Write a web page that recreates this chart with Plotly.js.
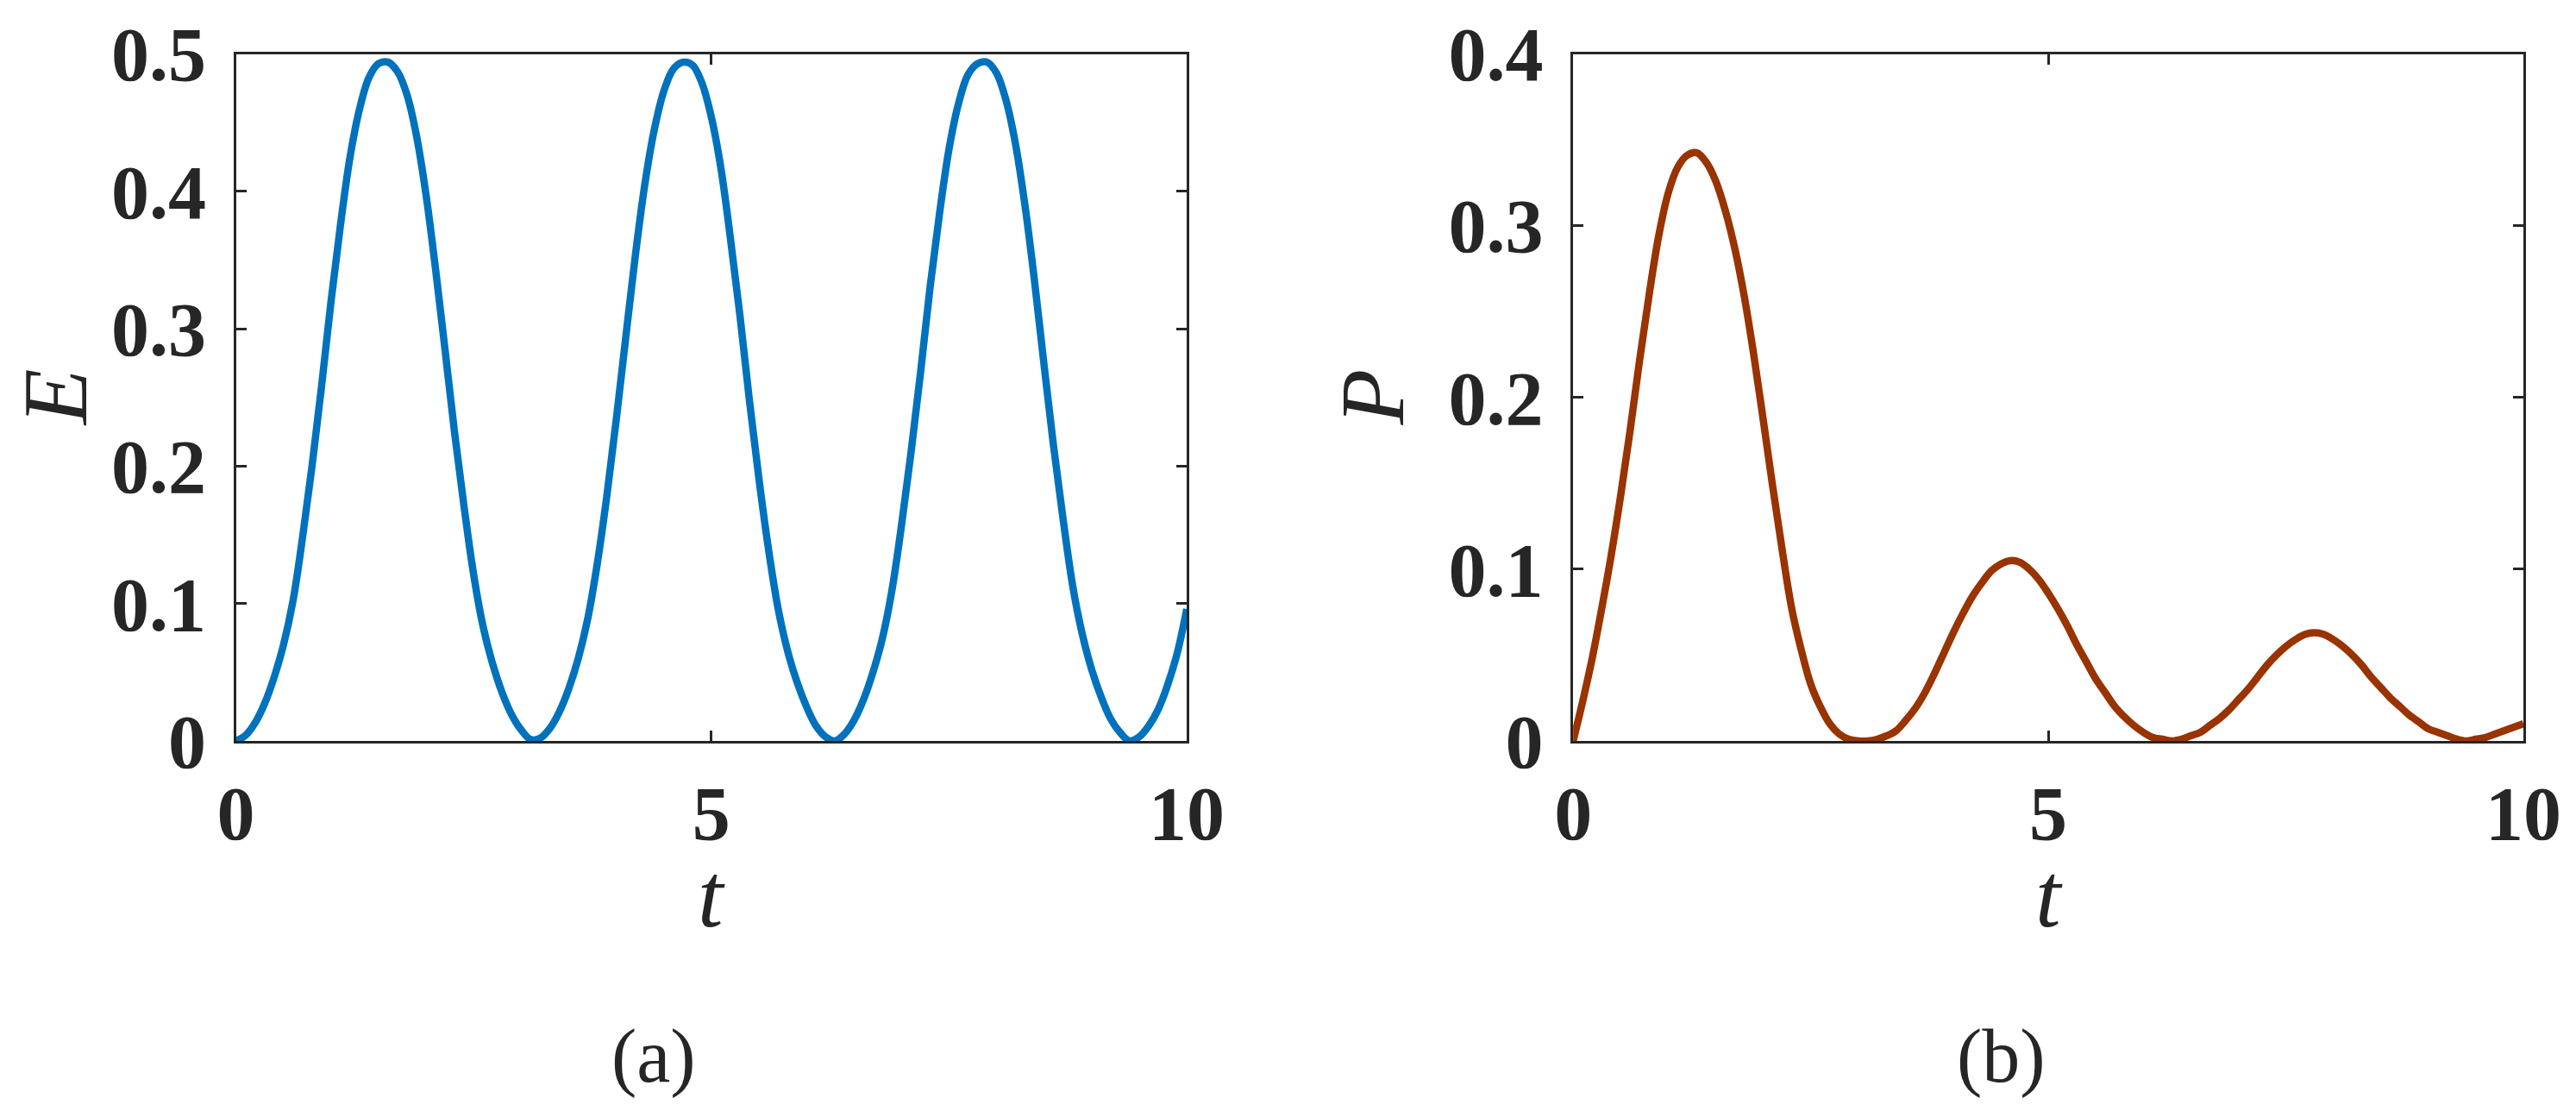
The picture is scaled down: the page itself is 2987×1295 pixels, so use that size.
<!DOCTYPE html>
<html>
<head>
<meta charset="utf-8">
<script src="https://cdn.plot.ly/plotly-3.0.1.min.js"></script>
<style>
html,body{margin:0;padding:0;background:#fff;}
#chart{width:2987px;height:1295px;}
</style>
</head>
<body>
<div id="chart"></div>
<script>
// time axis (shared by both panels)
const t = [0.0,0.1,0.2,0.3,0.4,0.5,0.6,0.7,0.8,0.9,1.0,1.1,1.2,1.3,1.4,1.5,1.6,1.7,1.8,1.9,2.0,2.1,2.2,2.3,2.4,2.5,2.6,2.7,2.8,2.9,3.0,3.1,3.2,3.3,3.4,3.5,3.6,3.7,3.8,3.9,4.0,4.1,4.2,4.3,4.4,4.5,4.6,4.7,4.8,4.9,5.0,5.1,5.2,5.3,5.4,5.5,5.6,5.7,5.8,5.9,6.0,6.1,6.2,6.3,6.4,6.5,6.6,6.7,6.8,6.9,7.0,7.1,7.2,7.3,7.4,7.5,7.6,7.7,7.8,7.9,8.0,8.1,8.2,8.3,8.4,8.5,8.6,8.7,8.8,8.9,9.0,9.1,9.2,9.3,9.4,9.5,9.6,9.7,9.8,9.9,10.0];

// panel (a): E(t)
const E = [0,0.004,0.013,0.027,0.046,0.070,0.102,0.148,0.200,0.258,0.320,0.376,0.425,0.460,0.483,0.493,0.494,0.487,0.470,0.440,0.397,0.343,0.284,0.224,0.170,0.121,0.083,0.056,0.035,0.019,0.008,0.001,0.002,0.009,0.021,0.038,0.060,0.089,0.129,0.178,0.234,0.294,0.353,0.405,0.445,0.473,0.489,0.494,0.492,0.479,0.454,0.417,0.366,0.310,0.248,0.191,0.140,0.097,0.066,0.043,0.025,0.011,0.003,0.000,0.005,0.015,0.030,0.050,0.075,0.110,0.157,0.210,0.268,0.330,0.384,0.431,0.464,0.485,0.493,0.494,0.486,0.466,0.434,0.389,0.334,0.273,0.214,0.161,0.113,0.078,0.052,0.032,0.016,0.006,0.000,0.003,0.011,0.023,0.041,0.064,0.096];

// panel (b): P(t)
const P = [0,0.023,0.048,0.077,0.108,0.143,0.181,0.222,0.260,0.294,0.319,0.334,0.341,0.3425,0.337,0.326,0.309,0.287,0.259,0.225,0.187,0.148,0.111,0.077,0.053,0.033,0.020,0.010,0.004,0.001,0.000,0.000,0.001,0.003,0.006,0.012,0.019,0.028,0.039,0.051,0.063,0.074,0.084,0.092,0.099,0.103,0.105,0.104,0.100,0.094,0.086,0.077,0.067,0.056,0.046,0.036,0.028,0.020,0.014,0.009,0.005,0.002,0.001,0.000,0.001,0.003,0.005,0.009,0.013,0.018,0.024,0.030,0.037,0.044,0.050,0.055,0.059,0.062,0.063,0.062,0.059,0.055,0.050,0.044,0.037,0.031,0.025,0.020,0.015,0.011,0.007,0.005,0.003,0.001,0.000,0.001,0.002,0.004,0.006,0.008,0.010];

const xTicks = [0, 5, 10];
const xTickText = ['0', '5', '10'];
const eTicks = [0, 0.1, 0.2, 0.3, 0.4, 0.5];
const eTickText = ['0', '0.1', '0.2', '0.3', '0.4', '0.5'];
const pTicks = [0, 0.1, 0.2, 0.3, 0.4];
const pTickText = ['0', '0.1', '0.2', '0.3', '0.4'];
const captions = ['(a)', '(b)'];
const axisTitles = {x: 't', ya: 'E', yb: 'P'};

const axisColor = '#262626';
const serif = '"Liberation Serif", "Times New Roman", Times, "Nimbus Roman", serif';
const tickFont = {family: serif, size: 88, color: axisColor, weight: 'bold'};
const titleFont = {family: serif, size: 106, color: axisColor, style: 'italic'};
const captionFont = {family: serif, size: 88, color: axisColor};

function xAxis(domain, anchor) {
  return {
    domain: domain, anchor: anchor, range: [0, 10],
    tickvals: xTicks, ticktext: xTickText,
    ticks: 'inside', ticklen: 12, tickwidth: 3, tickcolor: axisColor,
    showline: true, linewidth: 3, linecolor: axisColor, mirror: 'ticks',
    showgrid: false, zeroline: false,
    tickfont: tickFont, ticklabelstandoff: 5
  };
}
function yAxis(range, vals, text, anchor) {
  return {
    domain: [0.3367, 0.9517], anchor: anchor, range: range,
    tickvals: vals, ticktext: text,
    ticks: 'inside', ticklen: 12, tickwidth: 3, tickcolor: axisColor,
    showline: true, linewidth: 3, linecolor: axisColor, mirror: 'ticks',
    showgrid: false, zeroline: false,
    tickfont: tickFont, ticklabelstandoff: 14
  };
}

function label(text, x, y, font, angle) {
  return {text: text, xref: 'paper', yref: 'paper', x: x, y: y,
          xanchor: 'center', yanchor: 'middle', showarrow: false,
          textangle: angle || 0, font: font};
}

const data = [
  {x: t, y: E, xaxis: 'x', yaxis: 'y', type: 'scatter', mode: 'lines',
   line: {color: '#0072BD', width: 8.5, shape: 'spline'}, hoverinfo: 'skip'},
  {x: t, y: P, xaxis: 'x2', yaxis: 'y2', type: 'scatter', mode: 'lines',
   line: {color: '#993300', width: 8.5, shape: 'spline'}, hoverinfo: 'skip'}
];

const layout = {
  width: 2987, height: 1295,
  margin: {l: 0, r: 0, t: 0, b: 0},
  paper_bgcolor: '#ffffff', plot_bgcolor: '#ffffff',
  showlegend: false,
  font: {family: serif},
  xaxis: xAxis([0.0916, 0.4607], 'y'),
  yaxis: yAxis([0, 0.5], eTicks, eTickText, 'x'),
  xaxis2: xAxis([0.6107, 0.9796], 'y2'),
  yaxis2: yAxis([0, 0.4], pTicks, pTickText, 'x2'),
  annotations: [
    label(axisTitles.x, 0.2762, 0.1980, titleFont),
    label(axisTitles.x, 0.7955, 0.1980, titleFont),
    label(axisTitles.ya, 0.0215, 0.6440, titleFont, -90),
    label(axisTitles.yb, 0.5325, 0.6440, titleFont, -90),
    label(captions[0], 0.2538, 0.0541, captionFont),
    label(captions[1], 0.7770, 0.0541, captionFont)
  ]
};

Plotly.newPlot('chart', data, layout, {staticPlot: true, displayModeBar: false});
</script>
</body>
</html>
